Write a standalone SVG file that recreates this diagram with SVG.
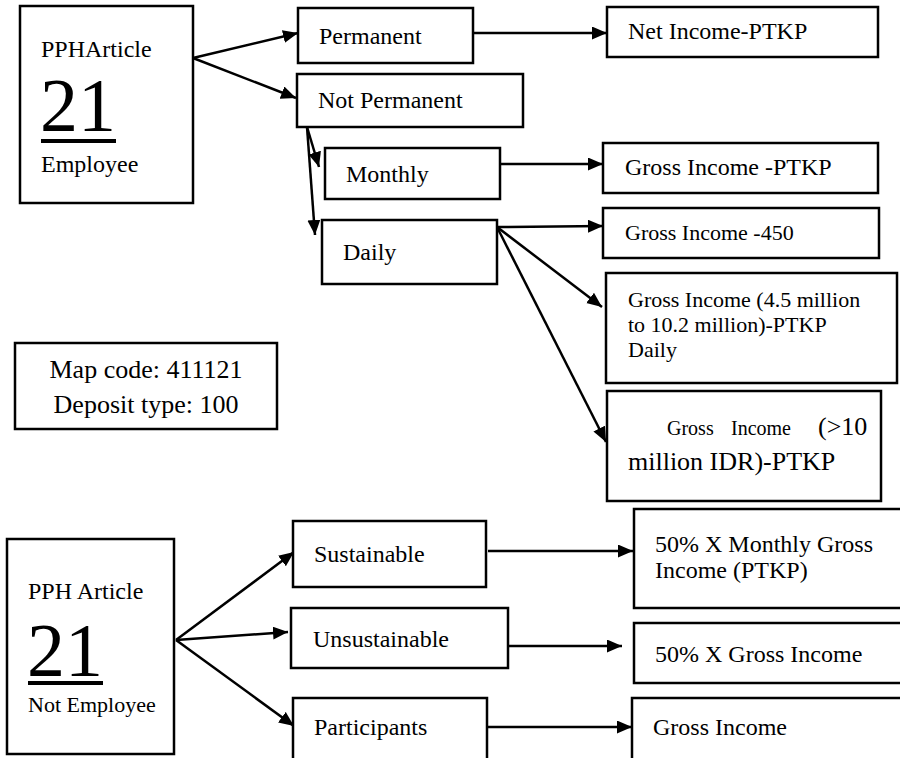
<svg xmlns="http://www.w3.org/2000/svg" width="900" height="758" viewBox="0 0 900 758">
<style>
.box{fill:#fff;stroke:#000;stroke-width:2.5}
text{font-family:"Liberation Serif","Times New Roman",serif;fill:#000}
.t{font-size:24px}
.s{font-size:22px}
.big{font-size:76px}
.c{stroke:#000;stroke-width:2.5;fill:none;marker-end:url(#ah)}
</style>
<defs>
<marker id="ah" markerUnits="userSpaceOnUse" markerWidth="16" markerHeight="14" refX="15" refY="6.5" orient="auto">
<path d="M0,0 L15,6.5 L0,13 z" fill="#000"/>
</marker>
</defs>
<rect width="900" height="758" fill="#fff"/>
<g id="connectors">
<line class="c" x1="193" y1="58" x2="298" y2="33"/>
<line class="c" x1="193" y1="58" x2="296" y2="98"/>
<line class="c" x1="473" y1="33" x2="607" y2="33"/>
<line class="c" x1="307" y1="127" x2="319" y2="167"/>
<line class="c" x1="307" y1="127" x2="315" y2="235"/>
<line class="c" x1="500" y1="164" x2="603" y2="164"/>
<line class="c" x1="497" y1="227" x2="603" y2="226"/>
<line class="c" x1="497" y1="227" x2="602" y2="307"/>
<line class="c" x1="497" y1="227" x2="606" y2="442"/>
<line class="c" x1="176" y1="640" x2="294" y2="552"/>
<line class="c" x1="176" y1="640" x2="288" y2="632"/>
<line class="c" x1="176" y1="640" x2="294" y2="726"/>
<line class="c" x1="488" y1="551" x2="633" y2="551"/>
<line class="c" x1="508" y1="646" x2="622" y2="646"/>
<line class="c" x1="487" y1="727" x2="632" y2="727"/>
</g>
<g id="pph-employee">
<rect class="box" x="20" y="6" width="173" height="197"/>
<text class="t" x="41" y="57">PPHArticle</text>
<text class="big" x="40" y="131">21</text>
<rect x="41" y="139" width="75" height="4" fill="#000"/>
<text class="t" x="41" y="172">Employee</text>
</g>
<g id="permanent">
<rect class="box" x="298" y="8" width="175" height="55"/>
<text class="t" x="319" y="44">Permanent</text>
</g>
<g id="not-permanent">
<rect class="box" x="297" y="74" width="226" height="53"/>
<text class="t" x="318" y="108">Not Permanent</text>
</g>
<g id="monthly">
<rect class="box" x="325" y="148" width="175" height="51"/>
<text class="t" x="346" y="182">Monthly</text>
</g>
<g id="daily">
<rect class="box" x="322" y="220" width="175" height="64"/>
<text class="t" x="343" y="260">Daily</text>
</g>
<g id="net-income">
<rect class="box" x="607" y="7" width="271" height="50"/>
<text class="t" x="628" y="39">Net Income-PTKP</text>
</g>
<g id="gross-ptkp">
<rect class="box" x="603" y="143" width="275" height="50"/>
<text class="t" x="625" y="175">Gross Income -PTKP</text>
</g>
<g id="gross-450">
<rect class="box" x="603" y="208" width="276" height="50"/>
<text class="s" x="625" y="240">Gross Income -450</text>
</g>
<g id="gross-range">
<rect class="box" x="606" y="273" width="291" height="110"/>
<text class="s" x="628" y="307">Gross Income (4.5 million</text>
<text class="s" x="628" y="332">to 10.2 million)-PTKP</text>
<text class="s" x="628" y="357">Daily</text>
</g>
<g id="gross-over10">
<rect class="box" x="607" y="391" width="274" height="110"/>
<text x="667" y="435" font-size="20">Gross</text>
<text x="731" y="435" font-size="20">Income</text>
<text x="818" y="435" font-size="26">(&gt;10</text>
<text x="628" y="470" font-size="26">million IDR)-PTKP</text>
</g>
<g id="map-code">
<rect class="box" x="15" y="343" width="262" height="86"/>
<text x="146" y="378" font-size="26" text-anchor="middle">Map code: 411121</text>
<text x="146" y="413" font-size="26" text-anchor="middle">Deposit type: 100</text>
</g>
<g id="pph-not-employee">
<rect class="box" x="7" y="539" width="167" height="215"/>
<text class="t" x="28" y="599">PPH Article</text>
<text class="big" x="27" y="676">21</text>
<rect x="28" y="681" width="75" height="4" fill="#000"/>
<text class="s" x="28" y="712">Not Employee</text>
</g>
<g id="sustainable">
<rect class="box" x="293" y="521" width="193" height="66"/>
<text class="t" x="314" y="562">Sustainable</text>
</g>
<g id="unsustainable">
<rect class="box" x="291" y="608" width="217" height="60"/>
<text class="t" x="313" y="647">Unsustainable</text>
</g>
<g id="participants">
<rect class="box" x="293" y="698" width="194" height="72"/>
<text class="t" x="314" y="735">Participants</text>
</g>
<g id="monthly-gross-50">
<rect class="box" x="634" y="509" width="276" height="99"/>
<text class="t" x="655" y="552">50% X Monthly Gross</text>
<text class="t" x="655" y="578">Income (PTKP)</text>
</g>
<g id="gross-50">
<rect class="box" x="634" y="623" width="276" height="60"/>
<text class="t" x="655" y="662">50% X Gross Income</text>
</g>
<g id="gross-income">
<rect class="box" x="632" y="698" width="278" height="72"/>
<text class="t" x="653" y="735">Gross Income</text>
</g>
</svg>
